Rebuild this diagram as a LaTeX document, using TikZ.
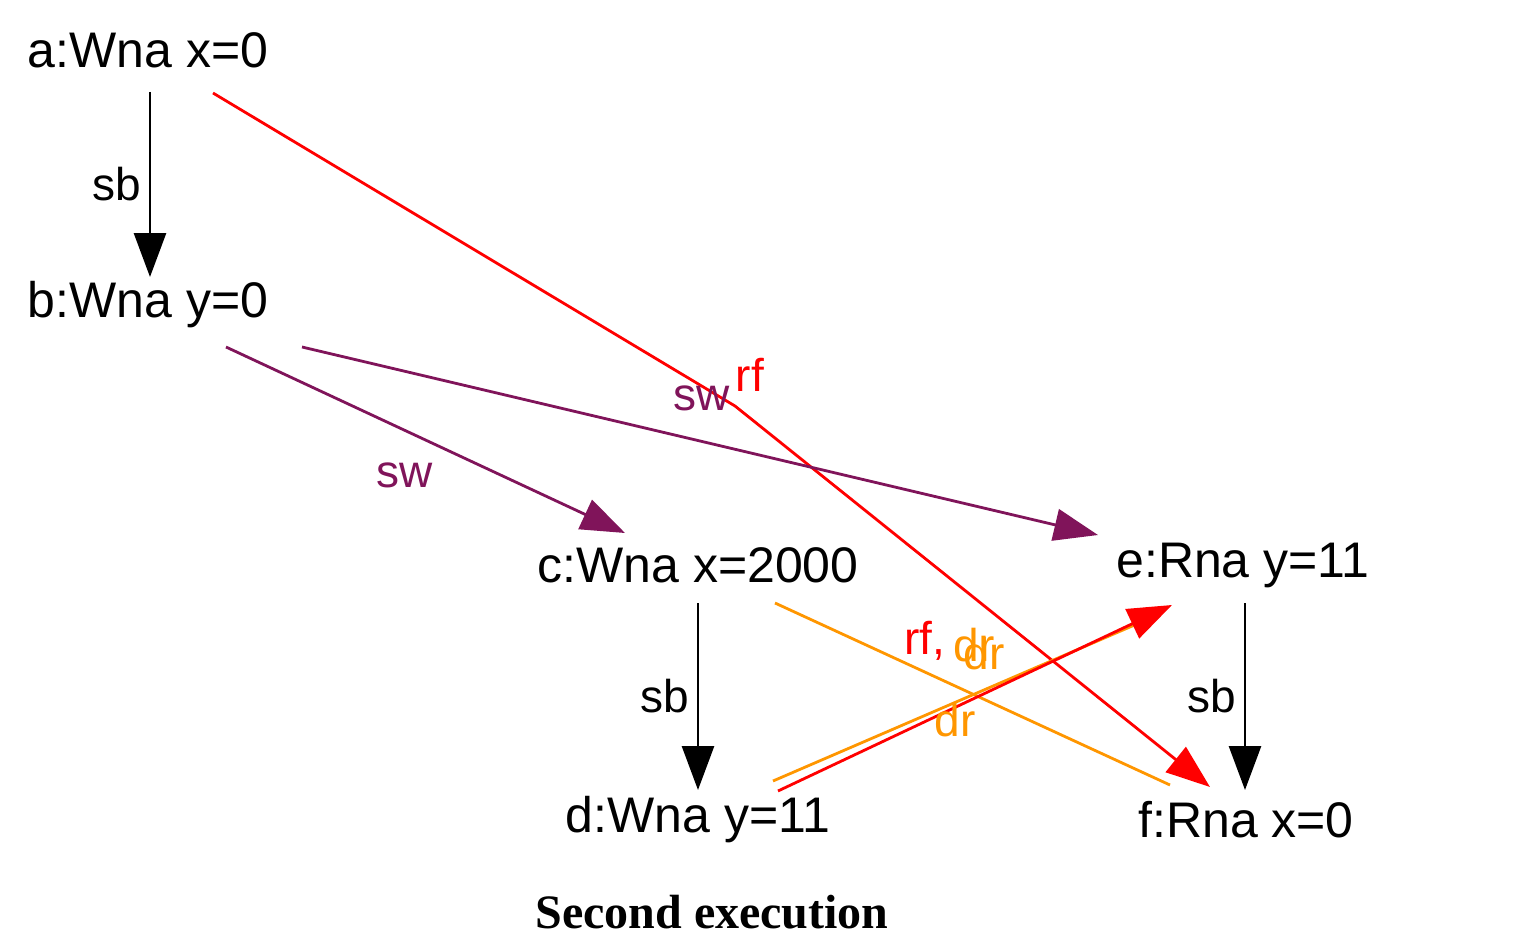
\documentclass[tikz,border=0pt]{standalone}
\usepackage{fontspec}
\setmainfont{Liberation Sans}
\newfontfamily\capfont{Liberation Serif}
\usetikzlibrary{arrows.meta}
\definecolor{sw}{RGB}{128,20,90}
\definecolor{dr}{RGB}{255,150,0}
\begin{document}
\begin{tikzpicture}[x=0.5pt,y=-0.5pt,
  lab/.style={font=\fontsize{25}{28}\selectfont, inner sep=0pt},
  el/.style={font=\fontsize{23}{26}\selectfont, inner sep=0pt},
  arr/.style={line width=1.4pt,-{Triangle[length=22pt,width=16pt]}},
  ln/.style={line width=1.4pt}]
\useasboundingbox (0,0) rectangle (1516,947);
\node[lab] (a) at (148,50) {a:Wna x=0};
\node[lab] (b) at (148,305) {b:Wna y=0};
\node[lab] (c) at (698,565) {c:Wna x=2000};
\node[lab] (d) at (698,820) {d:Wna y=11};
\node[lab] (e) at (1243,565) {e:Rna y=11};
\node[lab] (f) at (1246,820) {f:Rna x=0};
\node[font=\capfont\fontsize{24}{28}\selectfont\bfseries] (cap) at (712,912) {Second execution};
% sb edges
\coordinate (a1) at (150,92); \coordinate (b0) at (150,277);
\coordinate (c1) at (698,603); \coordinate (d0) at (698,790);
\coordinate (e1) at (1245,603); \coordinate (f0) at (1245,790);
\draw[arr] (a1) -- (b0) node[el,midway,left=4pt] {sb};
\draw[arr] (c1) -- (d0) node[el,midway,left=4pt] {sb};
\draw[arr] (e1) -- (f0) node[el,midway,left=4pt] {sb};
% rf a->f
\coordinate (a2) at (213,93); \coordinate (k) at (735,406); \coordinate (f1) at (1210,787);
\draw[arr,red] (a2) -- (k) -- (f1);
\node[el,red] (rf1) at (750,375) {rf};
% sw
\coordinate (b1) at (226,347); \coordinate (c0) at (625,533);
\coordinate (b2) at (302,347); \coordinate (e0) at (1098,535);
\draw[arr,sw] (b1) -- (c0);
\draw[arr,sw] (b2) -- (e0);
\node[el,sw] (sw1) at (405,475) {sw};
\node[el,sw] (sw2) at (702,398) {sw};
% c->f orange
\coordinate (c2) at (775,603); \coordinate (f2) at (1170,785);
\draw[ln,dr] (c2) -- (f2);
% d->e
\coordinate (d1) at (773,781); \coordinate (e2) at (1160,614);
\coordinate (d2) at (778,791); \coordinate (e3) at (1172,605);
\draw[ln,dr] (d1) -- (e2);
\draw[arr,red] (d2) -- (e3);
\node[el,red] (rf2) at (925,641) {rf,};
\node[el,dr] (dr1) at (974,645) {dr};
\node[el,dr] (dr2) at (984,653) {dr};
\node[el,dr] (dr3) at (955,720) {dr};
\end{tikzpicture}
\end{document}
